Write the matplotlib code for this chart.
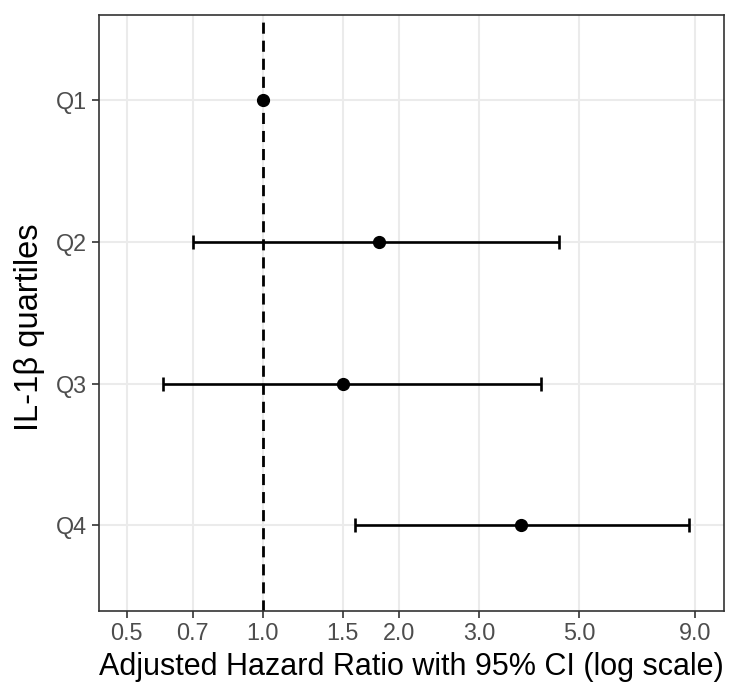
import numpy as np
import matplotlib.pyplot as plt
from matplotlib.ticker import FixedLocator, NullLocator

plt.rcParams['font.family'] = ['Liberation Sans', 'DejaVu Sans']

quartiles = ["Q1", "Q2", "Q3", "Q4"]
hr = [1.00, 1.80, 1.50, 3.71]
ci_low = [1.00, 0.702, 0.600, 1.60]
ci_high = [1.00, 4.51, 4.11, 8.74]
xbreaks = [0.5, 0.7, 1.0, 1.5, 2.0, 3.0, 5.0, 9.0]
xlabels = ["0.5", "0.7", "1.0", "1.5", "2.0", "3.0", "5.0", "9.0"]

fig = plt.figure(figsize=(7.33, 6.91), dpi=100)
ax = fig.add_axes([99/733, 1 - 610.5/691, 625/733, 595.5/691])

ypos = np.arange(1, len(quartiles) + 1)
hr = np.array(hr)
lo = hr - np.array(ci_low)
hi = np.array(ci_high) - hr

ax.set_xscale('log')
ax.set_xlim(0.4344, 10.43)
ax.set_ylim(4.6, 0.4)

ax.xaxis.set_major_locator(FixedLocator(xbreaks))
ax.xaxis.set_minor_locator(NullLocator())
ax.set_xticklabels(xlabels)
ax.set_yticks(ypos)
ax.set_yticklabels(quartiles)

ax.grid(True, color='#EBEBEB', linewidth=1.5, zorder=0)
ax.set_axisbelow(True)

ax.axvline(1.0, color='black', linestyle=(0, (4, 2.5)), linewidth=2, zorder=2)

# only draw bars where CI is non-degenerate
for i in range(len(quartiles)):
    if ci_high[i] > ci_low[i]:
        ax.errorbar(hr[i], ypos[i], xerr=[[lo[i]], [hi[i]]], fmt='none',
                    ecolor='black', elinewidth=1.9, capsize=5, capthick=1.9, zorder=3)
ax.plot(hr, ypos, 'o', color='black', markersize=8.5, zorder=4)

for s in ax.spines.values():
    s.set_color('#333333')
    s.set_linewidth(1.2)

ax.tick_params(axis='both', colors='#333333', length=5, width=1.2,
               labelsize=16.8, labelcolor='#4D4D4D')
ax.tick_params(axis='x', pad=3.5)
ax.tick_params(axis='y', pad=3.5)

ax.set_xlabel("Adjusted Hazard Ratio with 95% CI (log scale)", fontsize=22, labelpad=5)
ax.set_ylabel("IL-1β quartiles", fontsize=23.5)
ax.yaxis.set_label_coords(-0.087, 0.476)

fig.savefig("out.png", dpi=100)
